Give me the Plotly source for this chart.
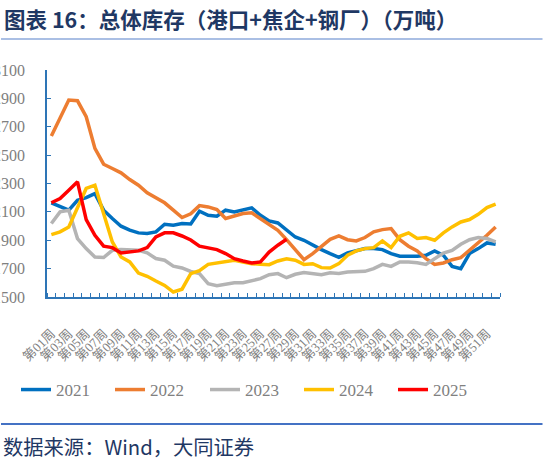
import plotly.graph_objects as go

# 周次（第01周 ... 第52周）
weeks = [f"第{w:02d}周" for w in range(1, 53)]

# 总体库存（万吨），按年份
y2021 = [2164, 2135, 2112, 2182, 2201, 2229, 2112, 2053, 1999, 1971,
         1952, 1947, 1959, 2013, 2006, 2018, 2015, 2105, 2076, 2069,
         2112, 2100, 2116, 2128, 2076, 2036, 2022, 1970, 1923, 1900,
         1865, 1834, 1806, 1780, 1810, 1825, 1841, 1841, 1834, 1806,
         1787, 1787, 1787, 1794, 1825, 1794, 1716, 1700, 1806, 1841,
         1881, 1872]
y2022 = [2634, 2759, 2888, 2883, 2771, 2547, 2436, 2406, 2375, 2328,
         2288, 2234, 2201, 2164, 2112, 2060, 2086, 2144, 2135, 2116,
         2053, 2069, 2088, 2093, 2053, 2017, 1970, 1904, 1829, 1763,
         1806, 1858, 1906, 1930, 1904, 1895, 1919, 1959, 1975, 1982,
         1904, 1858, 1825, 1770, 1730, 1740, 1763, 1777, 1829, 1881,
         1935, 1994]
y2023 = [2018, 2100, 2112, 1912, 1841, 1782, 1778, 1829, 1834, 1834,
         1829, 1811, 1771, 1759, 1717, 1705, 1680, 1665, 1594, 1580,
         1589, 1601, 1601, 1613, 1629, 1657, 1665, 1636, 1660, 1672,
         1665, 1657, 1670, 1665, 1676, 1676, 1681, 1700, 1730, 1716,
         1747, 1747, 1742, 1730, 1770, 1810, 1829, 1872, 1904, 1919,
         1912, 1888]
y2024 = [1940, 1959, 1994, 2135, 2265, 2288, 2088, 1888, 1782, 1747,
         1669, 1646, 1613, 1582, 1535, 1555, 1665, 1686, 1730, 1740,
         1754, 1759, 1747, 1735, 1730, 1728, 1754, 1770, 1759, 1730,
         1735, 1707, 1704, 1735, 1794, 1825, 1841, 1848, 1895, 1848,
         1928, 1952, 1912, 1919, 1900, 1952, 1994, 2029, 2046, 2083,
         2130, 2154]
y2025 = [2164, 2194, 2253, 2312, 2046, 1935, 1858, 1848, 1811, 1815,
         1825, 1848, 1924, 1952, 1952, 1930, 1902, 1858, 1848, 1834,
         1806, 1770, 1754, 1740, 1747, 1817, 1865, 1907]

y_ticks = list(range(1500, 3101, 200))

W, H = 544, 467
ML, MR, MT, MB = 47, 44, 70, 170
PW, PH = W - ML - MR, H - MT - MB


def px_x(x):
    return (x - ML) / PW


def px_y(y):
    return (H - MB - y) / PH


axis_blue = "#2E75B6"
gray_txt = "#808080"

fig = go.Figure()

# name, values, colour, legend slot, legend left (px)
series = [
    ("2021", y2021, "#0070C0", "legend", 16),
    ("2022", y2022, "#ED7D31", "legend2", 110),
    ("2023", y2023, "#B4B4B4", "legend3", 205),
    ("2024", y2024, "#FFC000", "legend4", 299),
    ("2025", y2025, "#FF0000", "legend5", 393),
]
legends = {}
for name, vals, color, leg, left in series:
    fig.add_trace(
        go.Scatter(
            x=list(range(len(vals))),
            y=vals,
            mode="lines",
            name=name,
            legend=leg,
            line=dict(color=color, width=3.5),
        )
    )
    # one legend box per year so entries sit where the original has them
    legends[leg] = dict(
        orientation="h",
        xref="container",
        yref="container",
        x=left / W,
        y=1 - 390 / H,
        xanchor="left",
        yanchor="middle",
        bgcolor="rgba(0,0,0,0)",
        font=dict(family="Liberation Serif", size=17, color=gray_txt),
    )

fig.update_layout(
    width=W,
    height=H,
    margin=dict(l=ML, r=MR, t=MT, b=MB),
    paper_bgcolor="white",
    plot_bgcolor="white",
    showlegend=True,
    xaxis=dict(
        range=[-0.5, len(weeks) - 0.5],
        tickmode="array",
        tickvals=list(range(0, len(weeks), 2)),
        ticktext=weeks[::2],
        tickangle=-45,
        ticks="",
        ticklabelstandoff=22,
        showgrid=False,
        zeroline=False,
        showline=True,
        linecolor=axis_blue,
        linewidth=1.5,
        tickfont=dict(family="Liberation Serif, Noto Sans CJK SC", size=13, color=gray_txt),
        minor=dict(
            tickmode="array",
            tickvals=[i - 0.5 for i in range(len(weeks) + 1)],
            ticks="inside",
            ticklen=4,
            tickcolor=axis_blue,
            tickwidth=1,
            showgrid=False,
        ),
        automargin=False,
    ),
    yaxis=dict(
        range=[1500, 3100],
        tickmode="array",
        tickvals=y_ticks,
        ticks="inside",
        ticklen=4,
        tickcolor=axis_blue,
        showgrid=False,
        zeroline=False,
        showline=True,
        linecolor=axis_blue,
        linewidth=1.5,
        tickfont=dict(family="Liberation Serif", size=16, color=gray_txt),
        ticklabelstandoff=17,
        automargin=False,
    ),
    **legends,
)

# 标题与来源
fig.add_annotation(
    text="<b>图表 16：总体库存（港口+焦企+钢厂）（万吨）</b>",
    xref="paper", yref="paper",
    x=px_x(2), y=px_y(18),
    xanchor="left", yanchor="middle",
    showarrow=False,
    font=dict(family="Noto Sans CJK SC", size=21.5, color="#1F3864"),
)
fig.add_annotation(
    text="数据来源：Wind，大同证券",
    xref="paper", yref="paper",
    x=px_x(1), y=px_y(446),
    xanchor="left", yanchor="middle",
    showarrow=False,
    font=dict(family="Noto Sans CJK SC", size=20.3, color="#1F3864"),
)

# rules under the title and above the source line (drawn as headless arrows)
for y_px, color, thick in [(39, "#8EAADB", 1.5), (424, "#4472C4", 2)]:
    fig.add_annotation(
        text="",
        xref="paper", yref="paper",
        x=px_x(0), y=px_y(y_px),
        axref="pixel", ayref="pixel",
        ax=W, ay=0,
        showarrow=True,
        arrowhead=0,
        arrowwidth=thick,
        arrowcolor=color,
        standoff=0,
        startstandoff=0,
    )

# the page's default body margin would push the 544x467 figure off the window
fig.write_html(
    "out.html",
    config={"displayModeBar": False},
    post_script="document.body.style.margin='0';",
)
